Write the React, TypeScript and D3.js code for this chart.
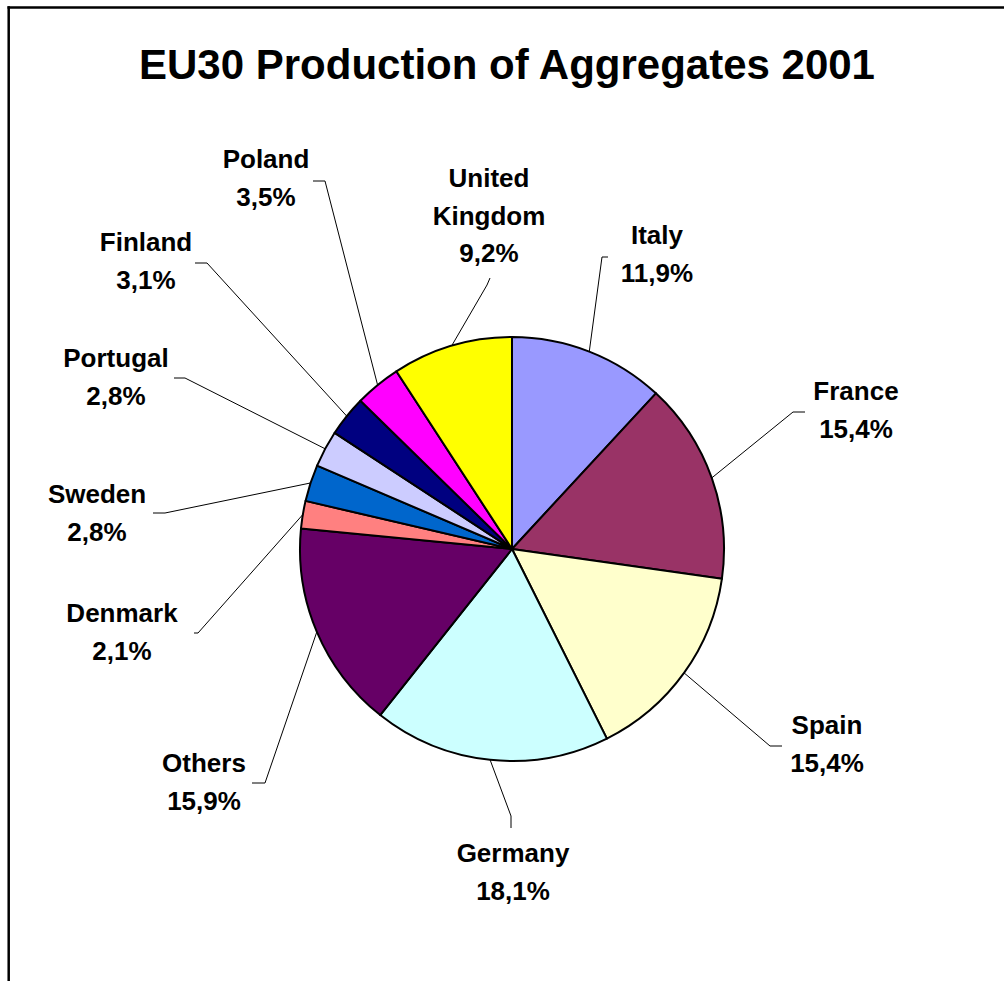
import React from "react";
import * as d3 from "d3";

const countries = ["Italy", "France", "Spain", "Germany", "Others", "Denmark", "Sweden", "Portugal", "Finland", "Poland", "United Kingdom"];
const shares = [11.9, 15.4, 15.4, 18.1, 15.9, 2.1, 2.8, 2.8, 3.1, 3.5, 9.2];
const shareLabels = ["11,9%", "15,4%", "15,4%", "18,1%", "15,9%", "2,1%", "2,8%", "2,8%", "3,1%", "3,5%", "9,2%"];
const nameLines = [["Italy"], ["France"], ["Spain"], ["Germany"], ["Others"], ["Denmark"], ["Sweden"], ["Portugal"], ["Finland"], ["Poland"], ["United", "Kingdom"]];
const colors = ["#9999FF", "#993366", "#FFFFCC", "#CCFFFF", "#660066", "#FF8080", "#0066CC", "#CCCCFF", "#000080", "#FF00FF", "#FFFF00"];

// label layout: text center x, first baseline y, leader elbow, leader end
const labelX = [657, 856, 827, 513, 204, 122, 97, 116, 146, 266, 489];
const labelY = [244, 400, 734, 862, 772, 622, 503, 367, 251, 168, 187];
const elbows: [number, number][] = [[602, 257], [793, 412], [770, 746], [511, 816], [265, 783], [198, 633], [165, 513], [185, 378], [207, 263], [325, 181], [487, 285]];
const ends: [number, number][] = [[608, 257], [805, 412], [782, 746], [511, 828], [252, 783], [194, 633], [153, 513], [174, 378], [195, 263], [313, 181], [490, 278]];

const title = "EU30 Production of Aggregates 2001";

export default function App() {
  const W = 1004, H = 981;
  const cx = 512, cy = 549, R = 212;
  const pie = d3.pie<number>().sort(null).value((d) => d).startAngle(0).endAngle(2 * Math.PI);
  const arcs = pie(shares);
  const arcGen = d3.arc<d3.PieArcDatum<number>>().innerRadius(0).outerRadius(R);
  const edgeGen = d3.arc<d3.PieArcDatum<number>>().innerRadius(R).outerRadius(R);
  const font = "'Liberation Sans', Arial, sans-serif";
  const lh = 37.5;
  return (
    <svg width={W} height={H} style={{ position: "absolute", left: 0, top: 0, background: "#fff" }}>
      <rect x={0} y={0} width={W} height={H} fill="#fff" />
      <line x1={7.5} y1={7.5} x2={W + 5} y2={7.5} stroke="#000" strokeWidth={2.5} />
      <line x1={8.7} y1={6.3} x2={8.7} y2={H + 5} stroke="#000" strokeWidth={2.5} />
      <text x={507} y={79} textAnchor="middle" fontFamily={font} fontWeight="bold" fontSize={42} fill="#000">{title}</text>
      <g transform={`translate(${cx},${cy})`}>
        {arcs.map((a, i) => (
          <path key={i} d={arcGen(a) || ""} fill={colors[i]} stroke="#000" strokeWidth={2} strokeLinejoin="round" />
        ))}
      </g>
      {arcs.map((a, i) => {
        const [ex, ey] = edgeGen.centroid(a);
        const pts = [[cx + ex, cy + ey], elbows[i], ends[i]];
        return (
          <polyline key={"l" + i} points={pts.map((p) => p.join(",")).join(" ")} fill="none" stroke="#000" strokeWidth={1} />
        );
      })}
      {countries.map((c, i) => {
        const lines = [...nameLines[i], shareLabels[i]];
        return (
          <text key={"t" + i} textAnchor="middle" fontFamily={font} fontWeight="bold" fontSize={26} fill="#000">
            {lines.map((ln, j) => (
              <tspan key={j} x={labelX[i]} y={labelY[i] + j * lh}>{ln}</tspan>
            ))}
          </text>
        );
      })}
    </svg>
  );
}
